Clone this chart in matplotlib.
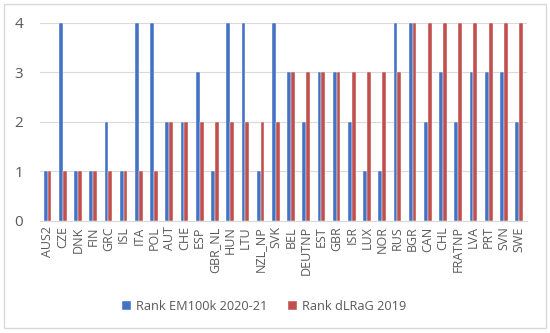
import numpy as np
import matplotlib.pyplot as plt
from matplotlib.patches import Rectangle

# Country codes (x axis order as in the source chart)
countries = ["AUS2", "CZE", "DNK", "FIN", "GRC", "ISL", "ITA", "POL", "AUT", "CHE",
             "ESP", "GBR_NL", "HUN", "LTU", "NZL_NP", "SVK", "BEL", "DEUTNP", "EST",
             "GBR", "ISR", "LUX", "NOR", "RUS", "BGR", "CAN", "CHL", "FRATNP", "LVA",
             "PRT", "SVN", "SWE"]

rank_em100k = [1, 4, 1, 1, 2, 1, 4, 4, 2, 2, 3, 1, 4, 4, 1, 4,
               3, 2, 3, 3, 2, 1, 1, 4, 4, 2, 3, 2, 3, 3, 3, 2]
rank_dlrag = [1, 1, 1, 1, 1, 1, 1, 1, 2, 2, 2, 2, 2, 2, 2, 2,
              3, 3, 3, 3, 3, 3, 3, 3, 4, 4, 4, 4, 4, 4, 4, 4]

series_labels = ["Rank EM100k 2020-21", "Rank dLRaG 2019"]

plt.rcParams['font.family'] = ['Open Sans', 'DejaVu Sans']

fig = plt.figure(figsize=(5.5, 3.33), dpi=100)
ax = fig.add_axes([0.0727, 0.337, 0.885, 0.595])

x = np.arange(len(countries))
w = 0.25
ax.bar(x - w / 2, rank_em100k, w, color='#4472C4', edgecolor='white', linewidth=0.3,
       label=series_labels[0], zorder=3)
ax.bar(x + w / 2, rank_dlrag, w, color='#C0504D', edgecolor='white', linewidth=0.3,
       label=series_labels[1], zorder=3)

ax.set_xlim(-0.5, len(countries) - 0.5)
ax.set_ylim(0, 4)
ax.set_yticks([0, 1, 2, 3, 4])
ax.set_xticks(x)
ax.set_xticklabels(countries, rotation=90, fontsize=9, color='#595959')
ax.tick_params(axis='y', labelsize=11, labelcolor='#595959', length=0, pad=12)
ax.tick_params(axis='x', length=0, pad=4)
ax.grid(axis='y', color='#D9D9D9', linewidth=0.8, zorder=0)
for s in ['top', 'right', 'left']:
    ax.spines[s].set_visible(False)
ax.spines['bottom'].set_color('#D9D9D9')

fig.legend(loc='center', bbox_to_anchor=(0.48, 0.08), ncol=2, frameon=False,
           fontsize=9.2, labelcolor='#595959', handlelength=0.7, handleheight=0.7,
           handletextpad=0.4, columnspacing=1.6)

# light border around the chart
fig.patches.append(Rectangle((0.008, 0.015), 0.984, 0.972, transform=fig.transFigure,
                             fill=False, edgecolor='#D9D9D9', linewidth=1))

fig.savefig('out.png', dpi=100)
